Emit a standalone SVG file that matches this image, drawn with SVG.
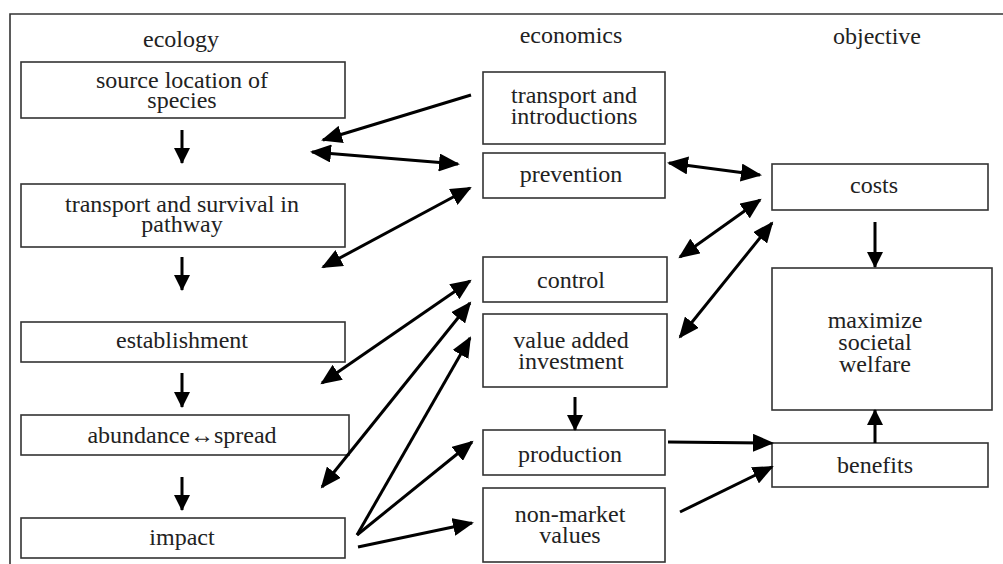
<svg xmlns="http://www.w3.org/2000/svg" width="1003" height="564" viewBox="0 0 1003 564">
<style>
.box{fill:#fff;stroke:#333;stroke-width:1.6}
.t{font-size:24px;fill:#222;text-anchor:middle}
.c{stroke:#000;stroke-width:3;fill:none}
</style>
<defs>
<marker id="ah" markerUnits="userSpaceOnUse" markerWidth="22" markerHeight="18" refX="19" refY="9" orient="auto-start-reverse" viewBox="0 0 22 18">
<path d="M0,0 L21,9 L0,18 z" fill="#000"/>
</marker>
<marker id="dh" markerUnits="userSpaceOnUse" markerWidth="16" markerHeight="16" refX="15" refY="8" orient="auto" viewBox="0 0 16 16">
<path d="M0,0 L16,8 L0,16 z" fill="#000"/>
</marker>
</defs>
<rect width="1003" height="564" fill="#fff"/>
<path d="M10,564 V14 H1003" fill="none" stroke="#333" stroke-width="1.6"/>
<g font-family="Liberation Serif, DejaVu Serif, serif">
<g id="headers">
<text class="t" x="181" y="47">ecology</text>
<text class="t" x="571" y="43">economics</text>
<text class="t" x="877" y="44">objective</text>
</g>
<g id="n-source"><rect class="box" x="21" y="62" width="324" height="56"/><text class="t" x="182" y="88">source location of</text><text class="t" x="182" y="108">species</text></g>
<g id="n-transport-survival"><rect class="box" x="21" y="184" width="324" height="63"/><text class="t" x="182" y="212">transport and survival in</text><text class="t" x="182" y="232">pathway</text></g>
<g id="n-establishment"><rect class="box" x="21" y="322" width="324" height="40"/><text class="t" x="182" y="348">establishment</text></g>
<g id="n-abundance"><rect class="box" x="21" y="415" width="328" height="40"/><text class="t" x="182" y="443">abundance↔spread</text></g>
<g id="n-impact"><rect class="box" x="21" y="518" width="324" height="40"/><text class="t" x="182" y="545">impact</text></g>
<g id="n-transport-intro"><rect class="box" x="483" y="72" width="182" height="72"/><text class="t" x="574" y="103">transport and</text><text class="t" x="574" y="124">introductions</text></g>
<g id="n-prevention"><rect class="box" x="483" y="153" width="182" height="45"/><text class="t" x="571" y="182">prevention</text></g>
<g id="n-control"><rect class="box" x="483" y="257" width="184" height="45"/><text class="t" x="571" y="288">control</text></g>
<g id="n-value"><rect class="box" x="483" y="314" width="184" height="73"/><text class="t" x="571" y="348">value added</text><text class="t" x="571" y="369">investment</text></g>
<g id="n-production"><rect class="box" x="483" y="430" width="182" height="45"/><text class="t" x="570" y="462">production</text></g>
<g id="n-nonmarket"><rect class="box" x="483" y="488" width="182" height="74"/><text class="t" x="570" y="522">non-market</text><text class="t" x="570" y="543">values</text></g>
<g id="n-costs"><rect class="box" x="772" y="164" width="216" height="46"/><text class="t" x="874" y="193">costs</text></g>
<g id="n-maximize"><rect class="box" x="772" y="268" width="220" height="142"/><text class="t" x="875" y="328">maximize</text><text class="t" x="875" y="350">societal</text><text class="t" x="875" y="372">welfare</text></g>
<g id="n-benefits"><rect class="box" x="772" y="443" width="216" height="44"/><text class="t" x="875" y="473">benefits</text></g>
</g>
<g id="connectors">
<line class="c" x1="182" y1="130" x2="182" y2="163" marker-end="url(#dh)"/>
<line class="c" x1="182" y1="257" x2="182" y2="290" marker-end="url(#dh)"/>
<line class="c" x1="182" y1="373" x2="182" y2="407" marker-end="url(#dh)"/>
<line class="c" x1="182" y1="477" x2="182" y2="510" marker-end="url(#dh)"/>
<line class="c" x1="575" y1="397" x2="575" y2="430" marker-end="url(#dh)"/>
<line class="c" x1="875" y1="222" x2="875" y2="267" marker-end="url(#dh)"/>
<line class="c" x1="875" y1="443" x2="875" y2="410" marker-end="url(#dh)"/>
<line class="c" x1="471" y1="95" x2="323" y2="140" marker-end="url(#ah)"/>
<line class="c" x1="312" y1="152" x2="458" y2="164" marker-start="url(#ah)" marker-end="url(#ah)"/>
<line class="c" x1="470" y1="188" x2="323" y2="267" marker-start="url(#ah)" marker-end="url(#ah)"/>
<line class="c" x1="669" y1="163" x2="760" y2="175" marker-start="url(#ah)" marker-end="url(#ah)"/>
<line class="c" x1="680" y1="257" x2="760" y2="200" marker-start="url(#ah)" marker-end="url(#ah)"/>
<line class="c" x1="772" y1="223" x2="680" y2="337" marker-start="url(#ah)" marker-end="url(#ah)"/>
<line class="c" x1="470" y1="281" x2="322" y2="383" marker-start="url(#ah)" marker-end="url(#ah)"/>
<line class="c" x1="470" y1="303" x2="322" y2="487" marker-start="url(#ah)" marker-end="url(#ah)"/>
<line class="c" x1="357" y1="535" x2="470" y2="338" marker-end="url(#ah)"/>
<line class="c" x1="357" y1="535" x2="472" y2="442" marker-end="url(#ah)"/>
<line class="c" x1="358" y1="547" x2="472" y2="523" marker-end="url(#ah)"/>
<line class="c" x1="668" y1="442" x2="772" y2="443" marker-end="url(#ah)"/>
<line class="c" x1="680" y1="512" x2="772" y2="467" marker-end="url(#ah)"/>
</g>
</svg>
